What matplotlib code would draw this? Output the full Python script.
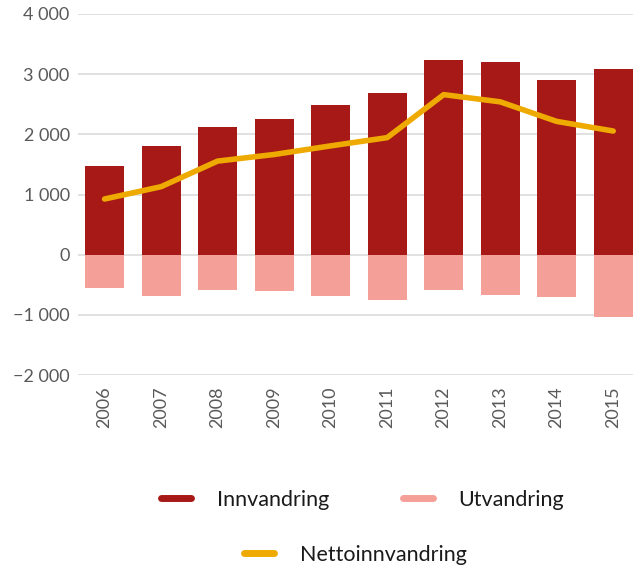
import matplotlib
matplotlib.use("Agg")
import matplotlib.pyplot as plt
from matplotlib.lines import Line2D
from matplotlib.ticker import FuncFormatter

years = ["2006", "2007", "2008", "2009", "2010", "2011", "2012", "2013", "2014", "2015"]
innvandring = [1473, 1805, 2121, 2254, 2487, 2686, 3234, 3201, 2902, 3085]
utvandring = [-548, -681, -581, -598, -681, -748, -581, -664, -698, -1030]
netto = [925, 1130, 1555, 1665, 1808, 1945, 2660, 2540, 2215, 2055]

c_inn = "#a71916"
c_ut = "#f4a098"
c_net = "#eeaa00"
grey = "#595959"

plt.rcParams['font.family'] = ['Lato', 'DejaVu Sans']

fig = plt.figure(figsize=(6.33, 5.66), dpi=100)
ax = fig.add_axes([78/633, 1 - 375/566, 1 - 78/633, (375 - 14)/566])

x = list(range(len(years)))
ax.bar(x, innvandring, width=0.69, color=c_inn, zorder=2)
ax.bar(x, utvandring, width=0.69, color=c_ut, zorder=2)
ax.plot(x, netto, color=c_net, lw=4, solid_capstyle='round', solid_joinstyle='round', zorder=3)

ax.set_ylim(-2000, 4000)
ax.set_xlim(-0.47, 9.35)
ax.set_yticks(range(-2000, 4001, 1000))
ax.yaxis.set_major_formatter(FuncFormatter(
    lambda v, p: ("\u2212" if v < 0 else "") + f"{abs(int(v)):,}".replace(",", " ")))
ax.set_xticks(x)
ax.set_xticklabels(years, rotation=90)
ax.grid(axis='y', color="#dcdcdc", lw=1.2, zorder=0)
ax.set_axisbelow(True)
for s in ax.spines.values():
    s.set_visible(False)
ax.tick_params(length=0, labelsize=13, colors=grey, pad=8)
ax.tick_params(axis='y', pad=6)

legkw = dict(frameon=False, loc='center', fontsize=15.5, handlelength=1.4,
             handletextpad=1.2, labelcolor="#1a1a1a")
h1 = [Line2D([], [], color=c_inn, lw=5, solid_capstyle='round'),
      Line2D([], [], color=c_ut, lw=5, solid_capstyle='round')]
fig.legend(h1, ["Innvandring", "Utvandring"], ncol=2, columnspacing=3.4,
           bbox_to_anchor=(0.573, 1 - 500/566), **legkw)
h2 = [Line2D([], [], color=c_net, lw=5, solid_capstyle='round')]
fig.legend(h2, ["Nettoinnvandring"], bbox_to_anchor=(0.561, 1 - 555/566), **legkw)

fig.savefig("out.png", dpi=100)
